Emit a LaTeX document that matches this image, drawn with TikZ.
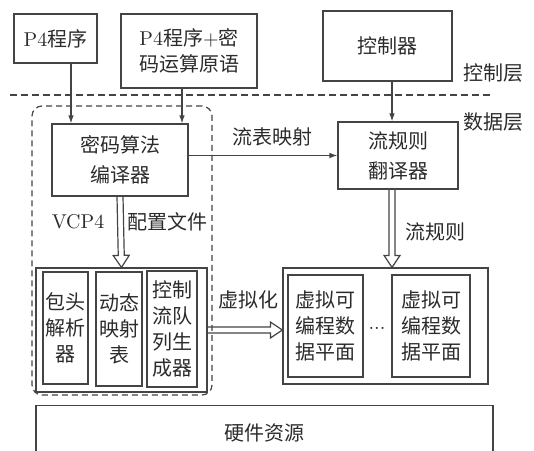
\documentclass[tikz,border=0pt]{standalone}
\usepackage{fontspec}
\newfontfamily\cjk{Noto Sans CJK SC}
\usepackage{tikz}
\usetikzlibrary{arrows.meta, calc, positioning}
\definecolor{ink}{HTML}{2B2B2B}
\definecolor{rule}{HTML}{444444}

% hollow (outlined) arrow between two points
\newcommand{\hollowarrow}[2]{%
  \coordinate (ha-s) at #1;
  \coordinate (ha-t) at #2;
  \coordinate (ha-b) at ($(ha-t)!6pt!(ha-s)$);
  \draw[hollow] ($(ha-s)!1.5pt!-90:(ha-t)$) -- ($(ha-b)!1.5pt!-90:(ha-t)$)
    -- ($(ha-b)!4pt!-90:(ha-t)$) -- (ha-t) -- ($(ha-b)!4pt!90:(ha-t)$)
    -- ($(ha-b)!1.5pt!90:(ha-t)$) -- ($(ha-s)!1.5pt!90:(ha-t)$);
}

\begin{document}
\begin{tikzpicture}[x=0.5pt, y=-0.5pt,
  every node/.style={font=\cjk\fontsize{10}{13}\selectfont, text=ink},
  block/.style={draw=rule, line width=0.6pt, align=center, inner sep=1pt},
  arrow/.style={-{Latex[length=4pt, width=2.8pt]}, line width=0.6pt, draw=rule},
  hollow/.style={line width=0.6pt, draw=rule},
  layer/.style={draw=rule, line width=0.6pt, dash pattern=on 3.5pt off 2pt},
  group/.style={draw=rule, line width=0.6pt, dash pattern=on 3pt off 2pt,
                rounded corners=5pt},
]
\useasboundingbox (0,0) rectangle (534,450);
\clip (0,0) rectangle (534,450);

% control layer
\node[block, minimum width=41.5pt, minimum height=24.5pt] (p4) at (55.5,38.5) {\textrm{P4}程序};
\node[block, minimum width=68pt, minimum height=37pt] (p4c) at (189,51) {\textrm{P4}程序\textrm{+}密\\码运算原语};
\node[block, minimum width=64.5pt, minimum height=35pt] (ctrl) at (387.5,46) {控制器};
\node (ctrlL) at (493,73) {控制层};
\node (dataL) at (493,122) {数据层};

\coordinate (sepL) at (10,95);
\coordinate (sepR) at (493,95);
\draw[layer] (sepL) -- (sepR);

% data layer
\node[group, minimum width=90pt, minimum height=144.5pt] (grp) at (122,250.5) {};
\node[block, minimum width=68pt, minimum height=36pt] (comp) at (120,160) {密码算法\\[2pt]编译器};
\node[block, minimum width=60pt, minimum height=33.5pt] (trans) at (398,155.5) {流规则\\[2pt]翻译器};

\node[block, minimum width=85.5pt, minimum height=62pt] (inL) at (121.5,330) {};
\node[block, minimum width=22.5pt, minimum height=56pt] (hdr) at (65.5,328) {包头\\解析\\器};
\node[block, minimum width=23pt, minimum height=57pt] (dmt) at (119,329) {动态\\映射\\表};
\node[block, minimum width=25pt, minimum height=58pt] (cfq) at (172,329) {控制\\流队\\列生\\成器};

\node[block, minimum width=102.5pt, minimum height=58pt] (outR) at (385.5,326) {};
\node[block, minimum width=37.5pt, minimum height=51pt] (vdp1) at (325.5,326) {虚拟可\\编程数\\据平面};
\node[block, minimum width=39pt, minimum height=51pt] (vdp2) at (431,326) {虚拟可\\编程数\\据平面};
\node (dots) at (377,328) {\textrm{...}};

\node[block, minimum width=228.5pt, minimum height=27pt, anchor=north] (hw) at (264.5,405) {硬件资源};

\node (vcp) at (78,222) {\textrm{VCP4}};
\node (cfg) at (167,222) {配置文件};
\node (ruleL) at (435,232) {流规则};
\node (virt) at (248,300) {虚拟化};

\draw[arrow] ([xshift=7.75pt]p4.south) -- ([xshift=7.75pt]p4.south |- comp.north);
\draw[arrow] ([xshift=-3.5pt]p4c.south) -- ([xshift=-3.5pt]p4c.south |- comp.north);
\draw[arrow] ([xshift=2.25pt]ctrl.south) -- ([xshift=2.25pt]ctrl.south |- trans.north);
\draw[arrow] (comp.east |- trans.west) -- (trans.west)
  node[midway, above=1pt, xshift=4.5pt]{流表映射};

\hollowarrow{(comp.south)}{(inL.north)}
\hollowarrow{([xshift=-3pt]trans.south)}{([xshift=-3pt]trans.south |- outR.north)}
\hollowarrow{(inL.east)}{(inL.east -| outR.west)}

\end{tikzpicture}
\end{document}
